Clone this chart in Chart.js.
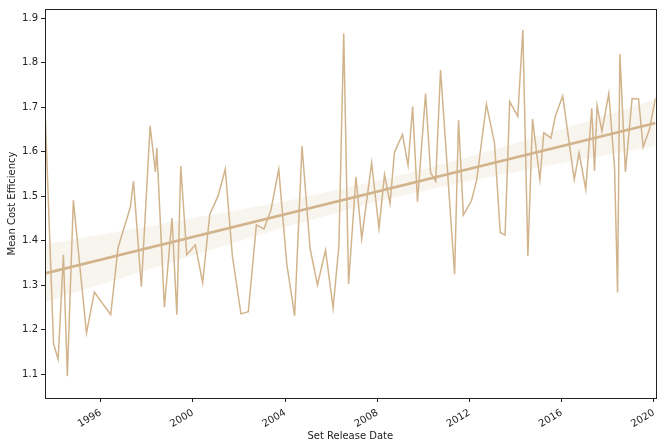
<!DOCTYPE html>
<html lang="en">
<head>
<meta charset="UTF-8" />
<title>Mean Cost Efficiency by Set Release Date</title>
<script src="https://cdn.jsdelivr.net/npm/chart.js@4"></script>
<style>
  html, body { margin: 0; padding: 0; background: #fff; }
  canvas { display: block; }
</style>
</head>
<body>
<canvas id="chart" width="665" height="448"></canvas>
<script>
  // release dates as decimal years
  const releaseYears = [
    1993.58, 1993.95, 1994.15, 1994.38, 1994.55, 1994.81, 1995.38, 1995.72, 1996.43, 1996.75,
    1997.28, 1997.42, 1997.76, 1998.14, 1998.37, 1998.43, 1998.76, 1999.09, 1999.30, 1999.47,
    1999.73, 2000.10, 2000.42, 2000.73, 2001.09, 2001.40, 2001.71, 2002.08, 2002.40, 2002.75,
    2003.08, 2003.38, 2003.72, 2004.07, 2004.41, 2004.73, 2005.08, 2005.40, 2005.75, 2006.08,
    2006.33, 2006.54, 2006.75, 2007.07, 2007.32, 2007.75, 2008.07, 2008.31, 2008.55, 2008.74,
    2009.09, 2009.33, 2009.53, 2009.74, 2010.09, 2010.31, 2010.53, 2010.74, 2011.35, 2011.52,
    2011.73, 2012.08, 2012.31, 2012.73, 2013.08, 2013.33, 2013.54, 2013.74, 2014.09, 2014.31,
    2014.53, 2014.73, 2015.05, 2015.22, 2015.53, 2015.72, 2016.04, 2016.54, 2016.75, 2017.04,
    2017.30, 2017.42, 2017.53, 2017.74, 2018.04, 2018.29, 2018.42, 2018.52, 2018.76, 2019.05,
    2019.33, 2019.53, 2019.80, 2020.07
  ];
  const meanEfficiency = [
    1.698, 1.169, 1.134, 1.369, 1.096, 1.491, 1.193, 1.285, 1.234, 1.385,
    1.475, 1.534, 1.297, 1.658, 1.555, 1.609, 1.251, 1.451, 1.234, 1.568,
    1.369, 1.391, 1.306, 1.460, 1.501, 1.561, 1.366, 1.236, 1.241, 1.436,
    1.427, 1.469, 1.561, 1.348, 1.232, 1.613, 1.383, 1.301, 1.379, 1.249,
    1.389, 1.866, 1.303, 1.544, 1.405, 1.575, 1.428, 1.549, 1.484, 1.599,
    1.639, 1.570, 1.702, 1.488, 1.731, 1.553, 1.534, 1.784, 1.325, 1.671,
    1.458, 1.490, 1.537, 1.707, 1.620, 1.419, 1.413, 1.713, 1.680, 1.874,
    1.366, 1.674, 1.538, 1.643, 1.631, 1.680, 1.726, 1.538, 1.598, 1.516,
    1.698, 1.557, 1.704, 1.646, 1.731, 1.564, 1.284, 1.820, 1.555, 1.720,
    1.719, 1.611, 1.650, 1.721
  ];

  // regression line and its confidence band
  const trendYears = [1993.58, 2020.07];
  const trendValues = [1.327, 1.665];
  const bandYears = [1993.58, 1996, 2000, 2004, 2008.5, 2012, 2016, 2020.07];
  const bandUpper = [1.392, 1.414, 1.451, 1.489, 1.541, 1.589, 1.651, 1.718];
  const bandLower = [1.262, 1.302, 1.367, 1.431, 1.495, 1.535, 1.575, 1.613];

  const xTicks = [1996, 2000, 2004, 2008, 2012, 2016, 2020];
  const yTicks = [1.1, 1.2, 1.3, 1.4, 1.5, 1.6, 1.7, 1.8, 1.9];

  const pts = (xs, ys) => xs.map((x, i) => ({ x: x, y: ys[i] }));

  const TAN = '#d2b48c';
  const INK = '#222';
  const FONT = { family: 'DejaVu Sans', size: 10 };

  const frame = {
    id: 'frame',
    afterDraw(chart) {
      const { ctx, chartArea: a } = chart;
      ctx.save();
      ctx.strokeStyle = INK;
      ctx.lineWidth = 1;
      ctx.strokeRect(Math.round(a.left) + 0.5, Math.round(a.top) + 0.5,
        Math.round(a.right - a.left), Math.round(a.bottom - a.top));
      ctx.restore();
    }
  };

  new Chart(document.getElementById('chart'), {
    type: 'line',
    data: {
      datasets: [
        { label: 'trend', data: pts(trendYears, trendValues), borderColor: TAN, borderWidth: 2.6, pointRadius: 0, fill: false },
        { label: 'mean', data: pts(releaseYears, meanEfficiency), borderColor: TAN, borderWidth: 1.5, pointRadius: 0, fill: false },
        { label: 'upper', data: pts(bandYears, bandUpper), borderWidth: 0, pointRadius: 0, backgroundColor: 'rgba(210,180,140,0.15)', fill: '+1' },
        { label: 'lower', data: pts(bandYears, bandLower), borderWidth: 0, pointRadius: 0, fill: false }
      ]
    },
    options: {
      responsive: false,
      animation: false,
      layout: { padding: { top: 5, right: 5, left: 0, bottom: 0 } },
      plugins: { legend: { display: false }, tooltip: { enabled: false } },
      elements: { line: { tension: 0 } },
      scales: {
        x: {
          type: 'linear',
          min: 1993.58,
          max: 2020.07,
          afterBuildTicks: s => { s.ticks = xTicks.map(v => ({ value: v })); },
          afterFit: s => { s.height = 50; },
          grid: { drawOnChartArea: false, drawTicks: true, tickLength: 4, color: INK },
          border: { display: false },
          ticks: { minRotation: 30, maxRotation: 30, autoSkip: false, padding: 5, color: INK, font: FONT, callback: v => String(v) },
          title: { display: true, text: 'Set Release Date', color: INK, font: FONT, padding: { top: 2, bottom: 6 } }
        },
        y: {
          min: 1.047,
          max: 1.921,
          afterBuildTicks: s => { s.ticks = yTicks.map(v => ({ value: v })); },
          afterFit: s => { s.width = 45; },
          grid: { drawOnChartArea: false, drawTicks: true, tickLength: 4, color: INK },
          border: { display: false },
          ticks: { padding: 3, color: INK, font: FONT, callback: v => v.toFixed(1) },
          title: { display: true, text: 'Mean Cost Efficiency', color: INK, font: FONT, padding: { top: 6, bottom: 2 } }
        }
      }
    },
    plugins: [frame]
  });
</script>
</body>
</html>
